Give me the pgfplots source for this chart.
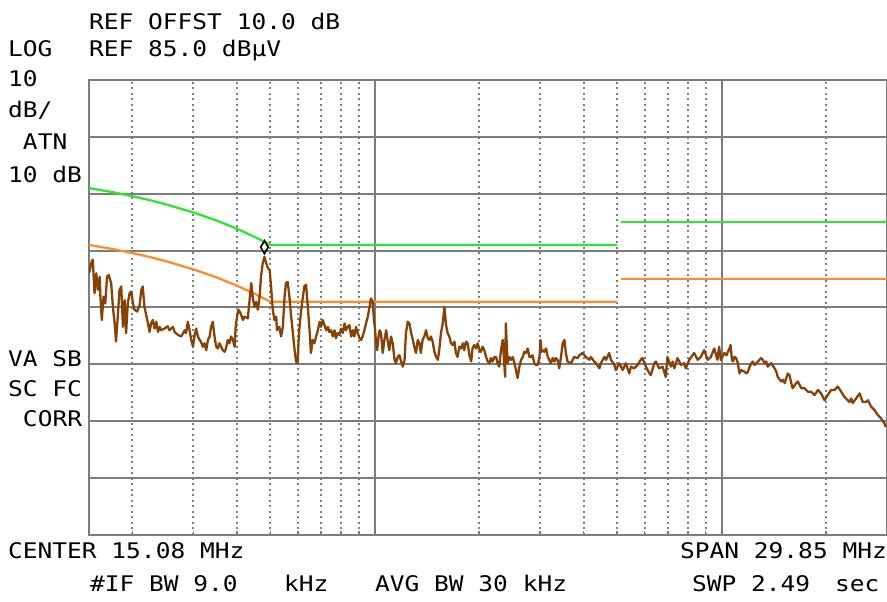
\documentclass[border=0pt]{standalone}
\usepackage{pgfplots}
\usepackage{pgfplotstable}
\pgfplotsset{compat=1.18}
\usepackage{fontspec}
\newfontfamily\hp[FakeStretch=1.14]{DejaVu Sans Mono}
\definecolor{trace}{RGB}{135,66,8}
\definecolor{lgreen}{RGB}{45,230,45}
\definecolor{lorange}{RGB}{255,140,40}
\definecolor{gridgray}{RGB}{125,125,125}

% x = log10(f / MHz), y = level in dBuV
\pgfplotstableread{
lf dB
-0.824 51.0
-0.816 53.1
-0.813 53.4
-0.808 47.5
-0.803 51.0
-0.798 48.1
-0.793 50.4
-0.791 46.9
-0.787 42.8
-0.782 46.9
-0.777 45.7
-0.772 50.4
-0.767 50.7
-0.760 49.3
-0.755 45.1
-0.750 42.2
-0.746 39.0
-0.741 43.4
-0.736 48.1
-0.731 48.7
-0.726 41.6
-0.721 46.3
-0.717 40.5
-0.712 45.7
-0.707 47.5
-0.702 47.8
-0.697 45.7
-0.693 44.6
-0.685 44.3
-0.678 45.4
-0.673 48.1
-0.669 48.7
-0.664 45.1
-0.659 43.7
-0.654 42.2
-0.649 40.7
-0.645 42.2
-0.640 42.8
-0.635 41.3
-0.630 42.5
-0.625 40.7
-0.620 41.6
-0.616 41.0
-0.606 41.3
-0.597 41.7
-0.592 41.0
-0.582 41.6
-0.577 40.7
-0.568 40.2
-0.558 39.9
-0.548 41.0
-0.544 40.5
-0.539 42.5
-0.534 41.0
-0.529 39.3
-0.524 38.1
-0.520 39.9
-0.515 41.3
-0.510 39.9
-0.505 39.3
-0.501 39.0
-0.496 38.1
-0.491 38.7
-0.486 37.5
-0.481 39.3
-0.476 39.9
-0.472 41.6
-0.467 42.5
-0.462 39.9
-0.457 38.1
-0.452 37.8
-0.448 38.7
-0.443 38.1
-0.438 37.5
-0.433 37.2
-0.429 37.8
-0.424 39.3
-0.419 38.7
-0.414 39.9
-0.409 39.3
-0.404 38.1
-0.401 41.6
-0.397 43.4
-0.393 44.6
-0.387 44.0
-0.380 42.8
-0.376 43.4
-0.366 43.1
-0.356 49.3
-0.352 46.9
-0.347 45.1
-0.342 46.0
-0.337 44.6
-0.332 46.9
-0.328 50.4
-0.323 52.8
-0.318 53.9
-0.313 52.8
-0.308 51.9
-0.303 51.6
-0.299 48.7
-0.294 44.6
-0.289 42.8
-0.284 43.4
-0.282 41.0
-0.275 41.6
-0.270 39.9
-0.265 41.6
-0.260 46.9
-0.256 49.3
-0.251 49.5
-0.246 46.9
-0.241 43.4
-0.236 40.5
-0.231 37.5
-0.227 35.5
-0.222 35.2
-0.220 38.7
-0.217 41.6
-0.212 44.6
-0.207 46.9
-0.203 48.7
-0.198 49.0
-0.193 45.1
-0.188 41.0
-0.184 37.0
-0.179 39.3
-0.174 38.7
-0.169 39.9
-0.164 41.0
-0.159 42.5
-0.155 41.6
-0.150 42.8
-0.145 41.9
-0.140 41.0
-0.135 41.6
-0.131 40.7
-0.126 41.0
-0.121 39.9
-0.116 41.0
-0.112 39.6
-0.107 40.5
-0.102 40.2
-0.097 41.3
-0.092 40.5
-0.087 42.2
-0.083 41.0
-0.078 41.6
-0.073 41.9
-0.068 39.9
-0.063 41.0
-0.059 39.9
-0.054 41.6
-0.049 40.5
-0.044 39.6
-0.039 39.3
-0.035 39.9
-0.030 41.0
-0.025 42.2
-0.020 43.4
-0.015 45.1
-0.011 46.6
-0.006 46.0
-0.003 43.4
0.001 41.0
0.004 38.7
0.007 37.5
0.011 39.9
0.014 41.0
0.018 40.5
0.023 37.0
0.028 39.3
0.033 41.0
0.037 39.3
0.042 37.5
0.047 39.9
0.052 38.7
0.057 35.8
0.061 35.2
0.066 36.3
0.071 36.6
0.076 35.5
0.081 34.6
0.086 35.8
0.090 40.5
0.095 42.5
0.100 42.2
0.105 40.5
0.110 39.3
0.114 38.1
0.119 37.0
0.124 39.3
0.129 38.7
0.133 37.0
0.138 39.3
0.143 39.9
0.148 41.0
0.153 39.6
0.158 39.3
0.162 39.9
0.167 39.0
0.172 37.2
0.177 36.3
0.182 35.8
0.186 37.5
0.191 40.5
0.196 42.2
0.201 45.1
0.205 42.2
0.210 40.5
0.215 39.9
0.220 38.7
0.225 38.4
0.230 39.0
0.234 37.0
0.239 36.3
0.244 38.1
0.249 37.8
0.254 38.7
0.258 37.5
0.263 39.0
0.268 38.7
0.273 36.6
0.278 35.5
0.282 37.8
0.287 38.4
0.292 37.8
0.297 38.7
0.302 37.5
0.306 37.2
0.311 38.1
0.316 37.5
0.321 36.3
0.326 35.5
0.331 35.2
0.335 36.1
0.340 35.5
0.345 36.3
0.350 36.3
0.354 35.2
0.359 34.6
0.364 37.5
0.369 39.3
0.374 34.6
0.376 32.8
0.378 42.2
0.381 38.1
0.383 35.2
0.388 36.3
0.393 35.8
0.398 36.3
0.403 35.2
0.407 34.0
0.412 32.6
0.417 34.6
0.422 35.8
0.427 36.3
0.431 37.2
0.436 37.0
0.441 37.8
0.446 36.3
0.450 36.3
0.455 36.6
0.460 35.2
0.465 34.9
0.470 34.9
0.475 36.3
0.478 39.3
0.481 37.2
0.484 37.5
0.489 37.2
0.494 37.8
0.499 36.3
0.503 35.8
0.508 35.2
0.513 36.1
0.518 35.5
0.522 36.1
0.527 35.8
0.532 34.3
0.537 36.3
0.542 38.7
0.547 39.3
0.551 37.0
0.556 35.5
0.566 35.2
0.575 36.3
0.585 36.1
0.590 36.6
0.599 37.0
0.609 36.3
0.619 35.8
0.623 36.3
0.633 35.5
0.638 35.2
0.648 34.3
0.652 35.2
0.662 36.3
0.667 35.8
0.676 37.0
0.681 35.8
0.691 34.9
0.695 34.0
0.705 35.2
0.715 34.0
0.724 35.2
0.734 33.4
0.739 34.6
0.748 34.3
0.758 34.9
0.767 35.8
0.772 36.1
0.782 34.6
0.792 33.4
0.796 33.1
0.806 35.2
0.811 35.5
0.820 34.3
0.830 34.6
0.839 32.8
0.844 36.3
0.854 34.6
0.859 35.5
0.864 34.3
0.873 36.1
0.883 34.9
0.892 35.2
0.897 34.3
0.907 35.8
0.921 37.0
0.931 35.8
0.940 36.3
0.950 37.5
0.960 35.8
0.969 36.3
0.979 37.8
0.988 35.8
0.993 38.1
0.998 35.8
1.008 37.0
1.014 36.6
1.018 37.2
1.023 37.8
1.026 38.4
1.030 35.8
1.033 35.5
1.037 36.3
1.042 36.1
1.047 35.2
1.052 33.4
1.057 34.0
1.066 33.7
1.071 33.4
1.076 33.7
1.081 34.6
1.086 35.2
1.090 35.5
1.095 34.9
1.105 35.5
1.114 36.1
1.119 35.8
1.124 35.2
1.129 35.5
1.133 34.6
1.143 35.2
1.153 34.3
1.158 33.7
1.162 32.8
1.172 32.0
1.177 32.3
1.182 31.7
1.191 33.4
1.196 33.1
1.201 31.7
1.205 30.8
1.215 31.7
1.220 32.0
1.230 30.8
1.239 30.8
1.249 30.2
1.258 30.2
1.268 29.6
1.278 30.5
1.287 29.9
1.297 28.7
1.306 29.6
1.316 30.5
1.326 30.5
1.335 31.1
1.345 30.2
1.354 29.3
1.364 28.7
1.369 28.4
1.374 29.0
1.378 28.2
1.388 29.0
1.398 29.9
1.407 28.4
1.417 28.4
1.422 28.7
1.431 27.6
1.441 27.0
1.450 26.1
1.460 25.5
1.470 24.6
1.473 24.0
}\tracedata

% quasi-peak limit (green) and average limit (orange), 0.15 - 5 MHz
\pgfplotstableread{
lf qp av
-0.82391 66.00 56.00
-0.75696 65.29 55.29
-0.69897 64.57 54.57
-0.64782 63.86 53.86
-0.60206 63.14 53.14
-0.52288 61.71 51.71
-0.45593 60.29 50.29
-0.39794 58.86 48.86
-0.34679 57.43 47.43
-0.30103 56.00 46.00
0.69897 56.00 46.00
}\limitlow
% 5 - 30 MHz
\pgfplotstableread{
lf qp av
0.710 60 50
1.47712 60 50
}\limithigh

\begin{document}
\begin{tikzpicture}[x=1bp,y=1bp]
\useasboundingbox (0,0) rectangle (887,602);
\begin{axis}[
  at={(89bp,67bp)}, anchor=south west,
  width=798bp, height=455bp, scale only axis,
  xmin=-0.82391, xmax=1.47712,
  ymin=5, ymax=85,
  xtick={0,1},
  minor xtick={-0.69897,-0.52288,-0.39794,-0.30103,-0.22185,-0.15490,-0.09691,-0.04576,
    0.30103,0.47712,0.60206,0.69897,0.77815,0.84510,0.90309,0.95424,1.30103},
  ytick={15,25,35,45,55,65,75},
  xticklabels={}, yticklabels={},
  xtick pos=lower, ytick pos=left,
  tick align=inside,
  major tick length=4bp, minor tick length=4bp,
  x tick style={gridgray, line width=1.6bp},
  y tick style={draw=none},
  grid=both,
  major grid style={gridgray, line width=2bp, solid},
  minor grid style={gridgray, line width=2bp, dash pattern=on 2bp off 3.5bp},
  axis line style={gridgray, line width=2.2bp},
  clip=true,
]
\addplot[lgreen, line width=2.3bp] table[x=lf, y=qp] {\limitlow};
\addplot[lgreen, line width=2.3bp] table[x=lf, y=qp] {\limithigh};
\addplot[lorange, line width=2.3bp] table[x=lf, y=av] {\limitlow};
\addplot[lorange, line width=2.3bp] table[x=lf, y=av] {\limithigh};
\addplot[trace, line width=2.3bp, line join=round] table[x=lf, y=dB] {\tracedata};
\addplot[only marks, mark=diamond, mark size=5bp, mark options={black, line width=1.6bp, fill=none, yscale=1.3}] coordinates {(-0.318,55.6)};
\end{axis}
\tikzset{lab/.style={anchor=base west, inner sep=0pt, font=\hp\fontsize{21.5bp}{21.5bp}\selectfont}}
\node[lab] at (89,572) {REF OFFST 10.0 dB};
\node[lab] at (8,545) {LOG};
\node[lab] at (89,545) {REF 85.0 dBµV};
\node[lab] at (8,515) {10};
\node[lab] at (8,484) {dB/};
\node[lab] at (22.8,452) {ATN};
\node[lab] at (8,419) {10 dB};
\node[lab] at (8,235) {VA SB};
\node[lab] at (8,205) {SC FC};
\node[lab] at (22.8,175) {CORR};
\node[lab] at (8,43) {CENTER 15.08 MHz};
\node[lab] at (680,43) {SPAN 29.85 MHz};
\node[lab] at (90,10) {\#IF BW 9.0};
\node[lab] at (284,10) {kHz};
\node[lab] at (375,10) {AVG BW 30 kHz};
\node[lab] at (692,10) {SWP 2.49};
\node[lab] at (835,10) {sec};
\end{tikzpicture}
\end{document}
